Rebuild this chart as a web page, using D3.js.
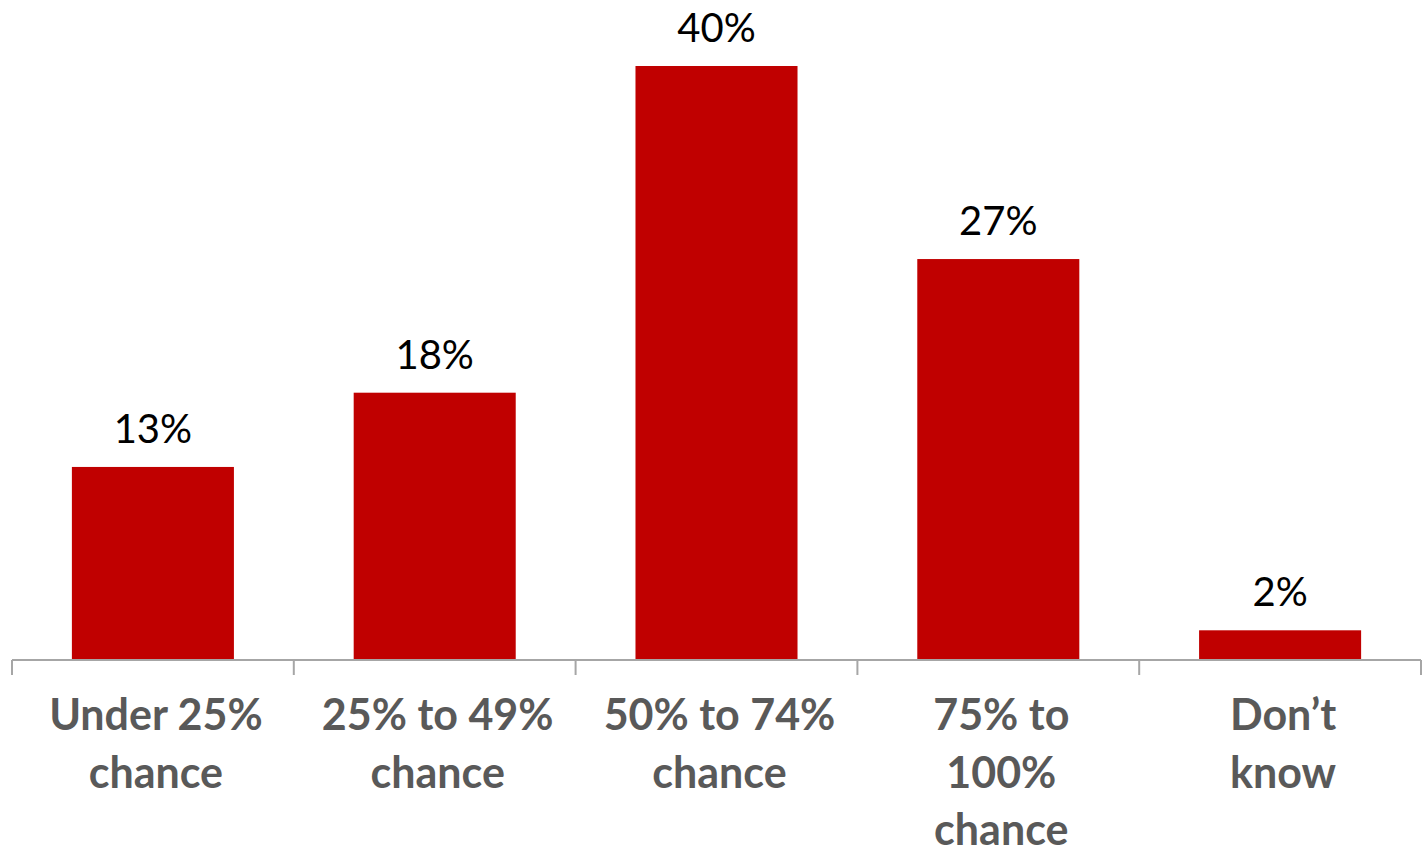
<!DOCTYPE html>
<html><head><meta charset="utf-8">
<script src="https://cdn.jsdelivr.net/npm/d3@7"></script>
<style>body{margin:0;background:#fff}</style>
</head><body>
<svg id="c" width="1427" height="846"></svg>
<script>
const categories = [["Under 25%","chance"],["25% to 49%","chance"],["50% to 74%","chance"],["75% to","100%","chance"],["Don\u2019t","know"]];
const values = [13, 18, 40, 27, 2];
const valueLabels = ["13%","18%","40%","27%","2%"];

const svg = d3.select("#c");
const left = 12, right = 1421, baseY = 660;
const x = d3.scaleBand().domain(d3.range(values.length)).range([left, right]).paddingInner(0).paddingOuter(0);
const y = d3.scaleLinear().domain([0, 40]).range([baseY, 66]);
const bw = x.bandwidth() * 0.575;

svg.selectAll("rect.bar").data(values).join("rect")
  .attr("x", (d,i) => x(i) + (x.bandwidth()-bw)/2)
  .attr("y", d => y(d))
  .attr("width", bw)
  .attr("height", d => baseY - y(d))
  .attr("fill", "#C00000");

svg.selectAll("text.val").data(values).join("text")
  .attr("x", (d,i) => x(i) + x.bandwidth()/2)
  .attr("y", d => y(d) - 24)
  .attr("text-anchor", "middle")
  .attr("font-family", "Lato, 'Open Sans', sans-serif")
  .attr("font-size", 40)
  .attr("fill", "#000")
  .text((d,i) => valueLabels[i]);

// axis
const ax = svg.append("g").attr("stroke", "#A6A6A6").attr("stroke-width", 2);
ax.append("line").attr("x1", left).attr("x2", right).attr("y1", baseY).attr("y2", baseY);
const ticks = d3.range(values.length).map(i => x(i)).concat([right]);
ax.selectAll("line.t").data(ticks).join("line")
  .attr("x1", d => d).attr("x2", d => d).attr("y1", baseY).attr("y2", baseY + 15);

const lab = svg.selectAll("text.cat").data(categories).join("text")
  .attr("text-anchor", "middle")
  .attr("font-family", "Lato, 'Open Sans', sans-serif")
  .attr("font-weight", "bold")
  .attr("font-size", 43)
  .attr("fill", "#595959");
lab.each(function(lines, i){
  d3.select(this).selectAll("tspan").data(lines).join("tspan")
    .attr("x", x(i) + x.bandwidth()/2 + 3)
    .attr("y", (d,j) => 730 + j*57.5)
    .text(d => d);
});
</script>
</body></html>
